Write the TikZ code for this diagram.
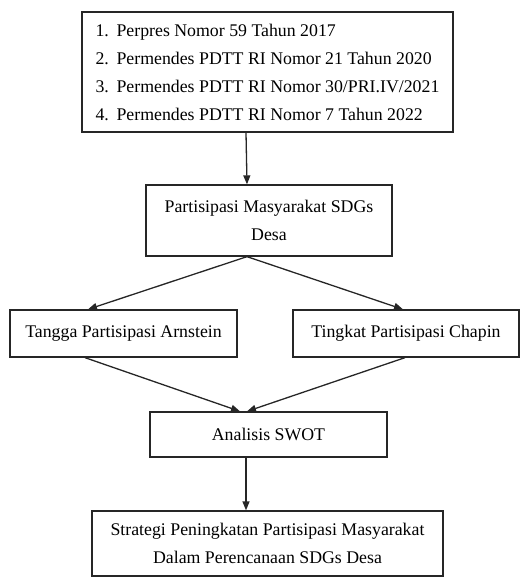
\documentclass[tikz,border=0pt]{standalone}
\usepackage{fontspec}
\setmainfont{Liberation Serif}
\usetikzlibrary{arrows.meta}

\begin{document}
\begin{tikzpicture}[x=1pt,y=-1pt,>={Triangle[length=9pt,width=7pt]},draw=black!85]

	\def \num#1{\makebox[21pt][l]{#1}}
	\tikzstyle{box}=[draw,line width=1.3pt,inner sep=0pt,align=center,text=black,font=\fontsize{17.8}{28}\selectfont]
	\tikzstyle{link}=[->,line width=1.3pt]
	\useasboundingbox (0,0) rectangle (521,578);

	% regulations
	\node[box,align=left,minimum width=371pt,minimum height=120pt] (rules) at (267.5,72)
		{\num{1.}Perpres Nomor 59 Tahun 2017\\
		 \num{2.}Permendes PDTT RI Nomor 21 Tahun 2020\\
		 \num{3.}Permendes PDTT RI Nomor 30/PRI.IV/2021\\
		 \num{4.}Permendes PDTT RI Nomor 7 Tahun 2022};

	% participation
	\node[box,minimum width=246pt,minimum height=71pt] (sdgs) at (269,220.5) {Partisipasi Masyarakat SDGs\\Desa};
	\node[box,minimum width=227pt,minimum height=47pt] (arnstein) at (123.5,333.5) {Tangga Partisipasi Arnstein};
	\node[box,minimum width=226pt,minimum height=47pt] (chapin) at (406,333.5) {Tingkat Partisipasi Chapin};

	% analysis
	\node[box,minimum width=237pt,minimum height=45pt] (swot) at (268.5,434.5) {Analisis SWOT};
	\node[box,minimum width=351pt,minimum height=65pt] (strategi) at (267.5,543.5) {Strategi Peningkatan Partisipasi Masyarakat\\Dalam Perencanaan SDGs Desa};

	% arrows
	\draw[link] ([xshift=-21.5pt]rules.south) -- ([xshift=-22pt]sdgs.north);
	\draw[link] ([xshift=-22pt]sdgs.south) -- ([xshift=-35.5pt]arnstein.north);
	\draw[link] ([xshift=-22pt]sdgs.south) -- ([xshift=-3pt]chapin.north);
	\draw[link] ([xshift=-38.5pt]arnstein.south) -- ([xshift=-28.5pt]swot.north);
	\draw[link] ([xshift=-1pt]chapin.south) -- ([xshift=-21.5pt]swot.north);
	\draw[link] ([xshift=-22.5pt]swot.south) -- ([xshift=-21.5pt]strategi.north);
\end{tikzpicture}
\end{document}
